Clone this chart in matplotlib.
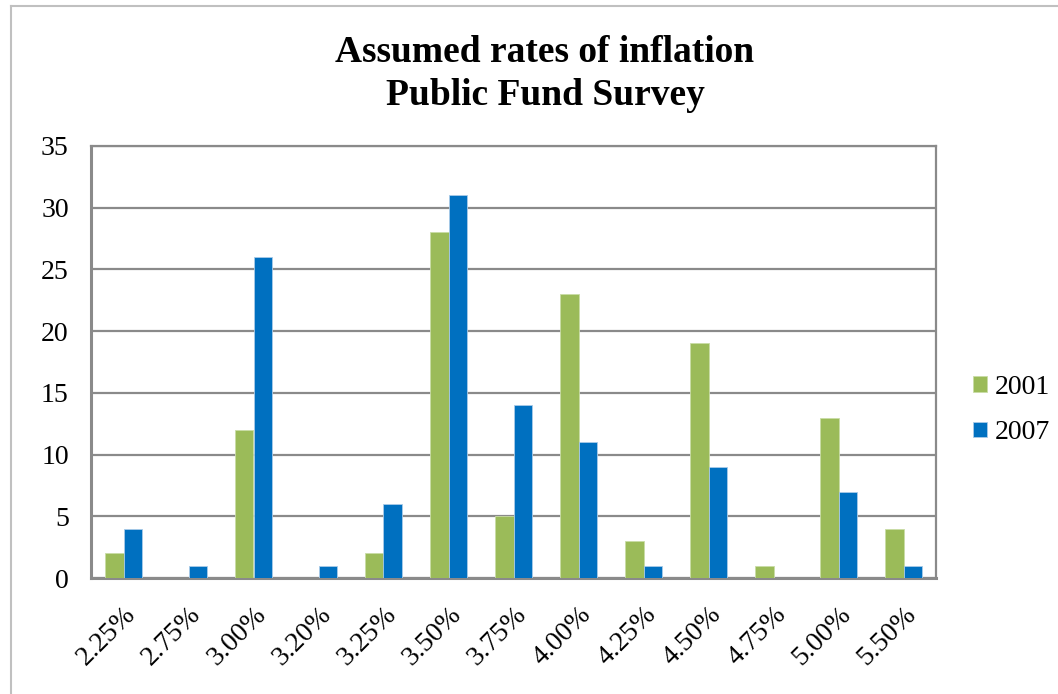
import matplotlib
matplotlib.use("Agg")
import matplotlib.pyplot as plt
import numpy as np
from matplotlib.lines import Line2D

categories = ["2.25%", "2.75%", "3.00%", "3.20%", "3.25%", "3.50%", "3.75%",
              "4.00%", "4.25%", "4.50%", "4.75%", "5.00%", "5.50%"]
values_2001 = [2, 0, 12, 0, 2, 28, 5, 23, 3, 19, 1, 13, 4]
values_2007 = [4, 1, 26, 1, 6, 31, 14, 11, 1, 9, 0, 7, 1]
yticks = [0, 5, 10, 15, 20, 25, 30, 35]

plt.rcParams['font.family'] = ['Liberation Serif', 'DejaVu Serif']

fig = plt.figure(figsize=(10.58, 6.94), dpi=100)
ax = fig.add_axes([91/1058, 1-578/694, (936-91)/1058, (578-146)/694])

x = np.arange(len(categories))
w = 0.29
green = "#9BBB59"
blue = "#0070C0"
ax.bar(x - w/2, values_2001, width=w, color=green, edgecolor="#c9dca6", linewidth=0.6, label="2001", zorder=3)
ax.bar(x + w/2, values_2007, width=w, color=blue, edgecolor="#a9cbe8", linewidth=0.6, label="2007", zorder=3)

ax.set_xlim(-0.5, len(categories) - 0.5)
ax.set_ylim(0, 35)
ax.set_yticks(yticks)
ax.set_xticks(x)
ax.set_xticklabels(categories, rotation=45, ha="right", rotation_mode="anchor", fontsize=20)
ax.tick_params(axis="y", labelsize=20, length=0, pad=16)
ax.tick_params(axis="x", length=0, pad=17)
ax.yaxis.grid(True, color="#8a8a8a", linewidth=1.6, zorder=0)
for s in ax.spines.values():
    s.set_color("#8a8a8a")
    s.set_linewidth(1.6)
ax.spines["left"].set_linewidth(2.2)
ax.spines["bottom"].set_linewidth(2.2)

fig.text(545/1058, 1-74/694, "Assumed rates of inflation\nPublic Fund Survey",
         ha="center", va="center", fontsize=27, fontweight="bold", linespacing=1.3)

leg = ax.legend(loc="center left", bbox_to_anchor=(948/1058, 1-410/694),
                bbox_transform=fig.transFigure, frameon=False, fontsize=20,
                handlelength=0.5, handleheight=0.5, handletextpad=0.3, labelspacing=0.75)

fig.add_artist(Line2D([11/1058, 11/1058], [0, 1-6/694], transform=fig.transFigure, color="#c0c0c0", linewidth=1.5))
fig.add_artist(Line2D([11/1058, 1], [1-6/694, 1-6/694], transform=fig.transFigure, color="#c0c0c0", linewidth=1.5))

fig.savefig("out.png", dpi=100, facecolor="white")
